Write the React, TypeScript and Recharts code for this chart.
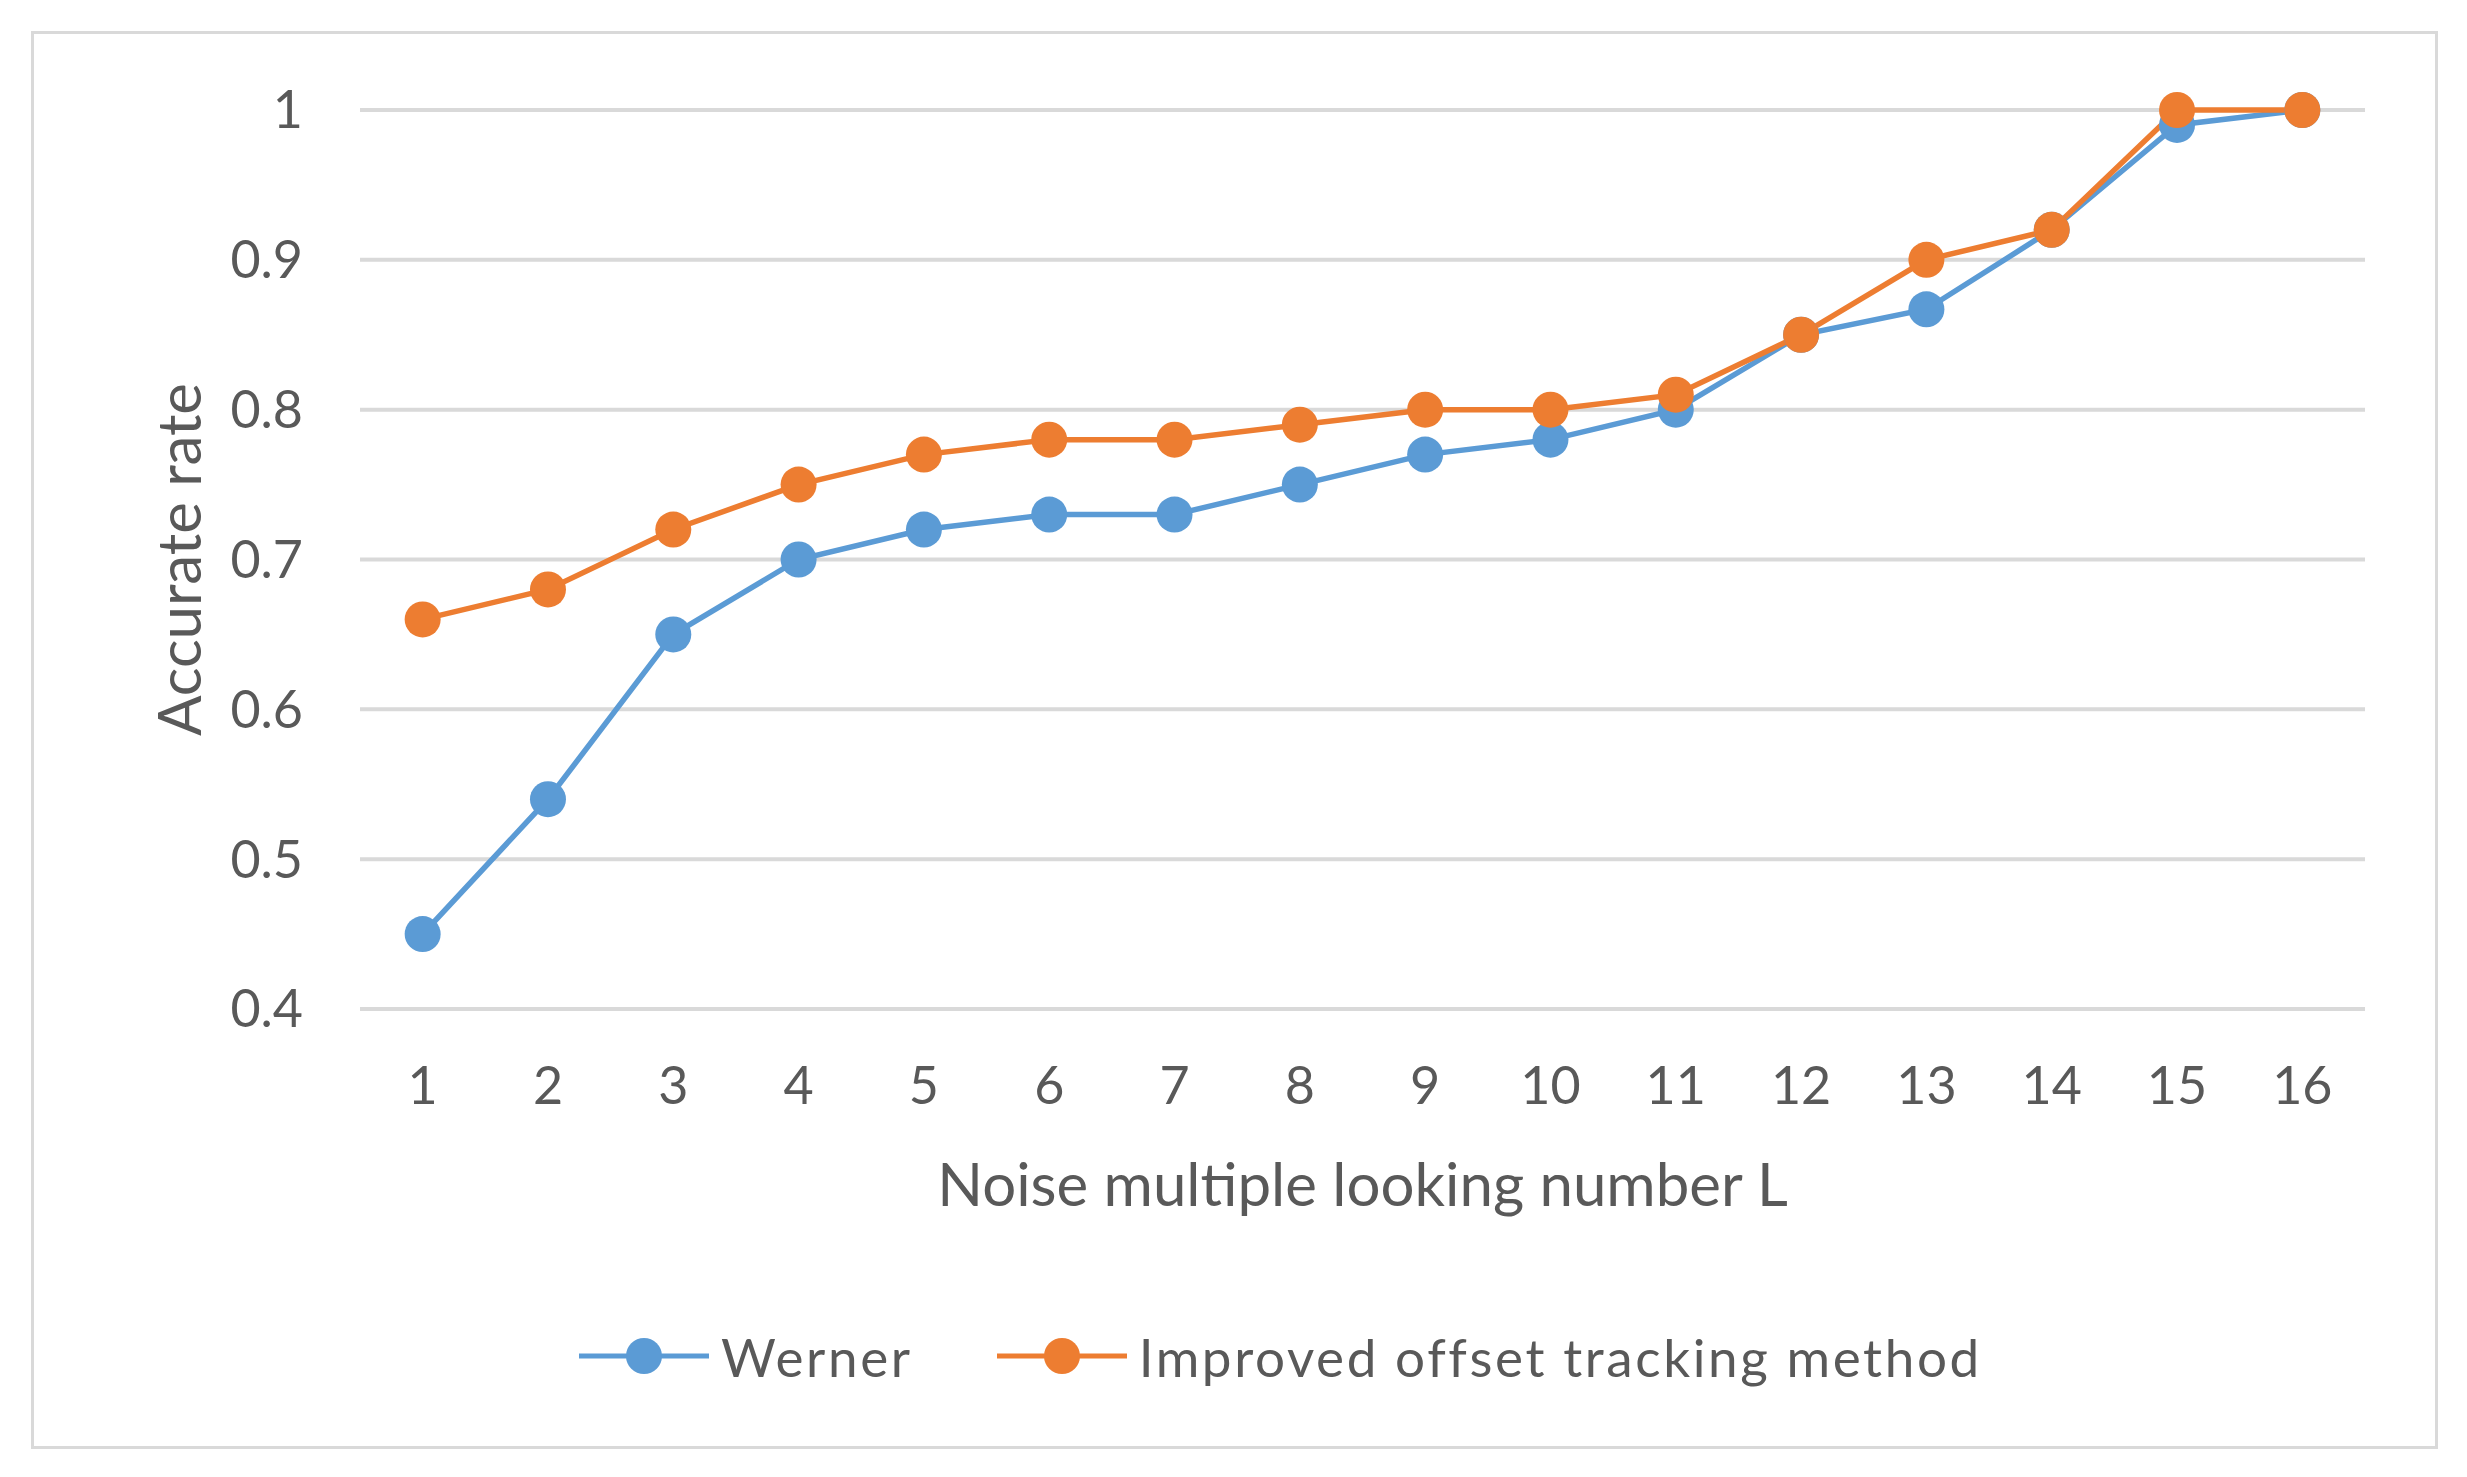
import React from 'react';
import { LineChart, Line, XAxis, YAxis, CartesianGrid } from 'recharts';

const categories = ['1', '2', '3', '4', '5', '6', '7', '8', '9', '10', '11', '12', '13', '14', '15', '16'];
const werner = [0.45, 0.54, 0.65, 0.7, 0.72, 0.73, 0.73, 0.75, 0.77, 0.78, 0.8, 0.85, 0.867, 0.92, 0.99, 1.0];
const improved = [0.66, 0.68, 0.72, 0.75, 0.77, 0.78, 0.78, 0.79, 0.8, 0.8, 0.81, 0.85, 0.9, 0.92, 1.0, 1.0];
const yTicks = [0.4, 0.5, 0.6, 0.7, 0.8, 0.9, 1];
const seriesNames = ['Werner', 'Improved offset tracking method'];
const seriesColors = ['#5B9BD5', '#ED7D31'];

const data = categories.map((c, i) => ({ name: c, werner: werner[i], improved: improved[i] }));

const FONT = 'Lato, "Open Sans", sans-serif';
const TEXT = '#595959';

const W = 2467;
const H = 1477;
const plotLeft = 360;
const plotRight = 2365;
const plotTop = 110;
const plotBottom = 1009;
const bandHalf = (plotRight - plotLeft) / categories.length / 2;

const LegendBox = () => (
  <div style={{ position: 'absolute', left: 579, top: 1336, height: 40, display: 'flex', alignItems: 'center', fontFamily: FONT, fontSize: 53, color: TEXT, letterSpacing: 2.6, whiteSpace: 'nowrap' }}>
    {seriesNames.map((n, i) => (
      <div key={n} style={{ display: 'flex', alignItems: 'center', marginRight: i === 0 ? 84 : 0 }}>
        <svg width={130} height={40} style={{ marginRight: 12 }}>
          <line x1={0} y1={20} x2={130} y2={20} stroke={seriesColors[i]} strokeWidth={5} />
          <circle cx={65} cy={20} r={18} fill={seriesColors[i]} />
        </svg>
        <span>{n}</span>
      </div>
    ))}
  </div>
);

const YLabel = () => (
  <text x={178} y={(plotTop + plotBottom) / 2} transform={`rotate(-90 178 ${(plotTop + plotBottom) / 2})`} textAnchor="middle" dominantBaseline="central" fill={TEXT} fontFamily={FONT} fontSize={60}>
    Accurate rate
  </text>
);

const XLabel = () => (
  <text x={(plotLeft + plotRight) / 2} y={1183} textAnchor="middle" dominantBaseline="central" fill={TEXT} fontFamily={FONT} fontSize={60}>
    Noise multiple looking number L
  </text>
);

export default function App() {
  return (
    <div style={{ position: 'absolute', left: 0, top: 0, width: W, height: H, background: '#fff' }}>
      <div style={{ position: 'absolute', left: 31, top: 31, width: 2438 - 31, height: 1449 - 31, border: '3px solid #D9D9D9', boxSizing: 'border-box' }} />
      <LineChart width={W} height={H} data={data} margin={{ top: plotTop, left: plotLeft - 100, right: W - plotRight, bottom: H - plotBottom - 250 }}>
        <CartesianGrid horizontal vertical={false} stroke="#D9D9D9" strokeWidth={4} />
        <XAxis dataKey="name" padding={{ left: bandHalf, right: bandHalf }} axisLine={false} tickLine={false} tickSize={0} tickMargin={58} height={250} tick={{ fill: TEXT, fontFamily: FONT, fontSize: 52 }} interval={0} label={<XLabel />} />
        <YAxis domain={[0.4, 1]} ticks={yTicks} width={100} axisLine={false} tickLine={false} tickSize={0} tickMargin={57} tick={{ fill: TEXT, fontFamily: FONT, fontSize: 52 }} label={<YLabel />} />
        <Line dataKey="werner" name={seriesNames[0]} stroke={seriesColors[0]} strokeWidth={5.5} dot={{ r: 18, fill: seriesColors[0], stroke: 'none' }} activeDot={false} isAnimationActive={false} />
        <Line dataKey="improved" name={seriesNames[1]} stroke={seriesColors[1]} strokeWidth={5.5} dot={{ r: 18, fill: seriesColors[1], stroke: 'none' }} activeDot={false} isAnimationActive={false} />
      </LineChart>
      <LegendBox />
    </div>
  );
}
